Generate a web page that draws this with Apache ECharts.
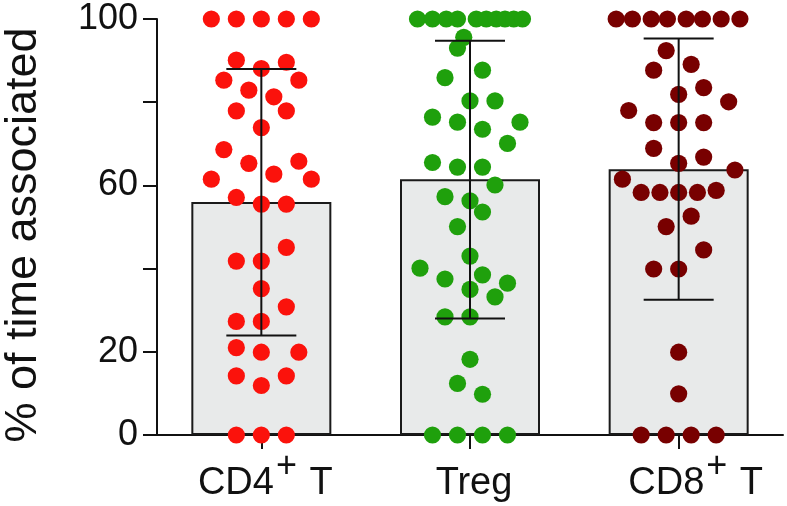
<!DOCTYPE html>
<html><head><meta charset="utf-8">
<script src="https://cdn.jsdelivr.net/npm/echarts@6/dist/echarts.min.js"></script>
<style>html,body{margin:0;padding:0;background:#fff}#c{width:787px;height:506px}</style>
</head><body><div id="c"></div>
<script>
// ---- data ----
const categories = ['CD4+ T', 'Treg', 'CD8+ T'];
const labelMain = ['CD4', 'Treg', 'CD8'];
const labelSup = ['+', '', '+'];
const labelTail = [' T', '', ' T'];
const means = [56.0, 61.5, 63.9];
const sdLow = [23.9, 28.0, 32.5];
const sdHigh = [88.0, 94.8, 95.3];
const yTicks = [0, 20, 40, 60, 80, 100];
const yTickLabels = ['0', '20', '', '60', '', '100'];

const cd4Values = [100,100,100,100,100, 90.1,89.6,88.1,85.3,85.3,82.9,81.3,77.9,77.9,73.9,
  68.6,65.8,65.3,62.7,61.5,61.5,57.1,55.5,55.5,45.1,41.8,41.8,35.2,30.8,27.3,27.3,
  21.0,19.9,19.9,14.2,14.2,11.9,0,0,0];
const cd4Slots = [-4,-2,0,2,4, -2,2,0,-3,3,-1,1,-2,2,0,
  -3,3,-1,1,-4,4,-2,0,2,2,-2,0,0,2,-2,0,
  -2,0,3,-2,2,0,-2,0,2];

const tregValues = [100,100,100,100,100,100,100,100,100,100,
  95.6,93.0,87.7,85.9,80.3,80.3,76.4,75.2,75.2,73.5,70.1,
  65.5,64.4,64.4,60.1,57.3,56.3,53.6,50.1,
  43.0,40.1,38.5,37.5,36.5,35.0,33.2,28.4,28.4,18.2,12.4,9.8,0,0,0,0];
const tregSlots = [-4.2,-3.0,-1.9,-1.0,0.5,1.3,2.1,2.8,3.5,4.2,
  -0.5,-1,1,-2,0,2,-3,-1,4,1,3,
  -3,-1,1,2,-2,0,1,-1,
  0,-4,1,-2,3,0,2,-2,0,0,-1,1,-3,-1,1,3];

const cd8Values = [100,100,100,100,100,100,100,100,
  92.4,89.1,87.7,83.5,81.9,80.1,78.0,75.1,75.1,75.1,
  68.9,66.8,65.3,63.7,61.5,58.8,58.3,58.3,58.3,58.3,
  52.6,50.1,44.5,39.9,39.9,19.9,9.9,0,0,0,0];
const cd8Slots = [-5.0,-3.7,-2.2,-0.9,0.6,1.9,3.4,4.9,
  -1,1,-2,2,0,4,-4,-2,0,2,
  -2,2,0,4.5,-4.5,3,-3,-1.5,0,1.5,
  1,-1,2,-2,0,0,0,-3,-1,1,3];

const groupValues = [cd4Values, tregValues, cd8Values];
const groupSlots = [cd4Slots, tregSlots, cd8Slots];
const groupColors = ['#fb120c', '#1fa00c', '#780000'];

// ---- chart ----
const SLOT_PX = 12.5;
const LABEL_SHIFT = [4, 4, 17]; // label nudge (px) seen in the reference
const chart = echarts.init(document.getElementById('c'));
const FONT = 'Liberation Sans, Arial, sans-serif';

const dotSeries = groupValues.map((vals, g) => ({
  type: 'custom',
  xAxisIndex: 0, yAxisIndex: 0,
  z: 3,
  data: vals.map((v, i) => [g, v, groupSlots[g][i]]),
  renderItem: (params, api) => {
    const p = api.coord([api.value(0), api.value(1)]);
    return {
      type: 'circle',
      shape: { cx: p[0] + api.value(2) * SLOT_PX, cy: p[1], r: 8.6 },
      style: { fill: groupColors[g] }
    };
  }
}));

const labelRich = {
  a: { fontSize: 38, fontFamily: FONT, color: '#111', lineHeight: 54, verticalAlign: 'bottom' },
  s: { fontSize: 36, fontFamily: FONT, color: '#111', verticalAlign: 'top', padding: [0, 2, 0, 2] }
};
LABEL_SHIFT.forEach((sh, i) => {
  labelRich['f' + i] = Object.assign({}, labelRich.a, { padding: [0, 0, 0, sh * 2] });
});

const option = {
  animation: false,
  backgroundColor: '#fff',
  grid: { left: 157, right: 4, top: 19, bottom: 71, containLabel: false, outerBoundsMode: 'none' },
  xAxis: {
    type: 'category',
    data: categories,
    axisLine: { lineStyle: { color: '#111', width: 2 } },
    axisTick: { show: true, alignWithLabel: true, length: 14, lineStyle: { color: '#111', width: 2 } },
    axisLabel: {
      margin: 14,
      formatter: (v, idx) => {
        const i = categories.indexOf(v);
        let s = '{f' + i + '|' + labelMain[i] + '}';
        if (labelSup[i]) s += '{s|' + labelSup[i] + '}';
        if (labelTail[i]) s += '{a|' + labelTail[i] + '}';
        return s;
      },
      rich: labelRich
    },
    splitLine: { show: false }
  },
  yAxis: {
    type: 'value', min: 0, max: 100, interval: 20,
    name: '% of time associated',
    nameLocation: 'middle', nameRotate: 90, nameGap: 111,
    nameTextStyle: { fontSize: 45, fontFamily: FONT, color: '#111', padding: [0, 16, 0, 0] },
    axisLine: { show: true, lineStyle: { color: '#111', width: 2 } },
    axisTick: { show: true, length: 14, lineStyle: { color: '#111', width: 2 } },
    axisLabel: {
      margin: 19, fontSize: 36, fontFamily: FONT, color: '#111', padding: [6, 0, 0, 0],
      formatter: (v) => yTickLabels[yTicks.indexOf(v)] ?? ''
    },
    splitLine: { show: false }
  },
  series: [
    {
      type: 'bar', data: means, barWidth: 140, z: 1,
      itemStyle: { color: '#e8eaea', borderColor: '#1a1a1a', borderWidth: 2 }
    },
    ...dotSeries,
    {
      type: 'custom', z: 5,
      data: categories.map((c, i) => [i, sdLow[i], sdHigh[i]]),
      renderItem: (params, api) => {
        const lo = api.coord([api.value(0), api.value(1)]);
        const hi = api.coord([api.value(0), api.value(2)]);
        const hw = 35;
        const st = { stroke: '#111', lineWidth: 2 };
        return {
          type: 'group',
          children: [
            { type: 'line', shape: { x1: lo[0], y1: lo[1], x2: hi[0], y2: hi[1] }, style: st },
            { type: 'line', shape: { x1: hi[0] - hw, y1: hi[1], x2: hi[0] + hw, y2: hi[1] }, style: st },
            { type: 'line', shape: { x1: lo[0] - hw, y1: lo[1], x2: lo[0] + hw, y2: lo[1] }, style: st }
          ]
        };
      }
    }
  ]
};
chart.setOption(option);
</script></body></html>
